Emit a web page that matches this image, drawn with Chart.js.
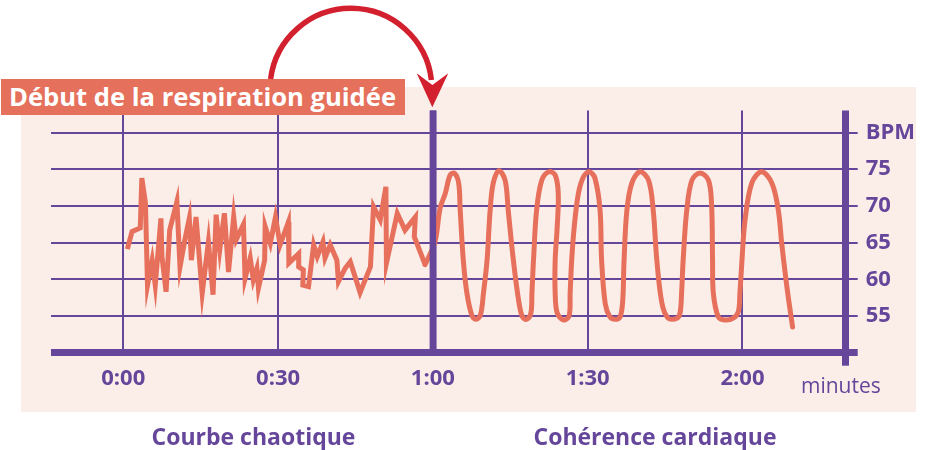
<!DOCTYPE html>
<html><head><meta charset="utf-8">
<script src="https://cdn.jsdelivr.net/npm/chart.js@4"></script>
<style>
html,body{margin:0;padding:0;background:#fff;width:932px;height:450px;overflow:hidden}
#panel{position:absolute;left:21px;top:87px;width:895px;height:325px;background:#fbede8}
#c{position:absolute;left:0;top:0}
#titlebox{position:absolute;left:1px;top:79px;width:404px;height:36px;background:#e5705b;color:#fff;font-family:'Open Sans';font-weight:700;font-size:25.6px;line-height:36px;padding-left:8px;box-sizing:border-box;white-space:nowrap;z-index:3}
.lbl{position:absolute;font-family:'Open Sans';font-weight:700;color:#65469a;white-space:nowrap;transform:translate(-50%,-50%);font-size:23px;z-index:2}
#minutes{position:absolute;left:801px;top:385px;transform:translateY(-50%);font-family:'Open Sans';font-weight:400;font-size:21px;color:#65469a;z-index:2}
#arrow{position:absolute;left:0;top:0;z-index:4}
</style></head>
<body>
<div id="panel"></div>
<canvas id="c" width="932" height="450"></canvas>
<div id="titlebox">Début de la respiration guidée</div>
<div class="lbl" style="left:253.5px;top:436px">Courbe chaotique</div>
<div class="lbl" style="left:655px;top:436px">Cohérence cardiaque</div>
<div id="minutes">minutes</div>
<svg id="arrow" width="932" height="450">
<path d="M 270.6 79 A 81 81 0 0 1 431.4 80" fill="none" stroke="#d3202e" stroke-width="5.5"/>
<polygon points="416.7,73.3 432.3,107.3 448.3,73.3 432.4,85" fill="#d3202e"/>
</svg>
<script>
// tick values and labels
const timeTicks = [0, 30, 60, 90, 120];
const timeLabels = ['0:00', '0:30', '1:00', '1:30', '2:00'];
const bpmTicks = [50, 55, 60, 65, 70, 75, 80];
const bpmLabels = ['', '55', '60', '65', '70', '75', 'BPM'];

// chaotic heart rate (seconds, BPM)
const chaoticX = [0.8,1.7,3.3,3.6,4.3,4.7,5.6,6.2,7.3,7.5,8.3,9.0,10.4,11.0,12.0,12.8,13.2,14.1,15.3,16.5,17.4,18.0,18.7,19.6,20.4,21.4,21.9,23.3,23.6,24.6,25.2,25.9,26.2,27.4,27.5,28.5,29.5,30.4,32.0,32.1,34.0,34.0,34.9,34.8,35.9,36.9,37.6,38.7,39.1,40.1,41.4,41.7,43.0,44.0,45.9,47.9,48.5,49.8,50.9,51.0,53.1,54.6,56.6,56.4,58.5];
const chaoticY = [64.1,66.5,67.0,73.8,70.4,59.2,62.6,59.2,68.3,63.1,58.3,66.7,70.6,61.7,65.6,68.3,62.6,68.5,58.1,65.1,57.9,68.8,64.0,69.0,61.0,68.5,65.4,67.5,60.1,62.9,59.9,61.5,58.8,62.6,67.2,64.9,68.5,64.7,67.8,62.2,63.5,61.7,61.3,59.2,59.0,64.7,63.1,65.1,62.9,64.7,62.6,59.7,61.5,62.4,58.2,61.7,69.9,68.1,72.6,62.2,69.0,66.7,68.5,65.8,62.0];

// cardiac coherence (seconds, BPM)
const cohX = [58.5,60.4,61.4,62.4,63.35,64.2,65.0,65.3,65.9,66.6,67.55,68.3,69.2,69.8,70.5,71.1,71.7,72.8,74.0,74.6,75.6,76.6,77.35,78.2,79.0,79.2,79.5,80.1,81.1,82.5,83.7,84.3,84.1,83.7,83.7,84.1,85.3,86.4,86.6,86.9,87.4,88.2,89.2,90.3,91.4,92.4,92.7,93.4,94.3,95.3,96.3,96.8,97.05,97.6,98.55,100.15,101.8,102.7,103.4,104.4,105.6,107.3,107.9,108.2,108.5,109.2,110.2,111.8,113.4,114.0,114.2,114.35,115.3,116.6,118.2,119.2,119.5,119.9,120.5,121.8,123.7,125.7,126.95,127.6,128.6,129.7];
const cohY = [62.0,65.1,69.7,71.7,74.2,74.45,73.1,69.4,62.6,58.1,55.1,54.55,55.1,58.1,62.6,69.4,73.1,74.8,73.5,69.4,62.6,57.2,54.9,54.55,55.4,58.1,62.6,69.4,73.5,74.65,74.2,71.7,67.2,62.6,58.1,55.4,54.45,55.0,58.1,62.6,67.2,71.7,74.0,74.65,73.8,69.4,62.6,56.7,54.9,54.55,54.9,57.2,62.6,69.4,73.1,74.65,73.5,69.4,62.6,56.7,54.7,54.7,55.4,58.1,62.6,69.4,73.5,74.5,73.5,70.35,62.6,58.1,54.9,54.45,54.7,55.6,58.1,62.6,68.1,73.1,74.65,73.1,69.4,64.9,59.0,53.5];

const X_MIN = -14, X_MAX = 140, Y_MIN = 50, Y_MAX = 83;
const guideStart = 60;

const PURPLE = '#65469a';
const SALMON = '#e6705b';

const toPts = (xs, ys) => xs.map((x, i) => ({x, y: ys[i]}));

const guidePlugin = {
  id: 'guide',
  afterDatasetsDraw(chart) {
    const {ctx, chartArea, scales} = chart;
    const px = scales.x.getPixelForValue(guideStart);
    ctx.save();
    ctx.strokeStyle = PURPLE;
    ctx.lineWidth = 6.5;
    ctx.beginPath();
    ctx.moveTo(px, chartArea.top);
    ctx.lineTo(px, chartArea.bottom);
    ctx.stroke();
    ctx.restore();
  }
};

new Chart(document.getElementById('c'), {
  type: 'line',
  data: {
    datasets: [
      {data: toPts(chaoticX, chaoticY), borderColor: SALMON, borderWidth: 5, tension: 0, pointRadius: 0, borderJoinStyle: 'miter', fill: false},
      {data: toPts(cohX, cohY), borderColor: SALMON, borderWidth: 5, tension: 0.35, pointRadius: 0, borderJoinStyle: 'round', borderCapStyle: 'round', fill: false}
    ]
  },
  options: {
    responsive: false,
    animation: false,
    devicePixelRatio: 1,
    layout: {padding: {left: 51, top: 110.5, right: 0, bottom: 0}},
    plugins: {legend: {display: false}, tooltip: {enabled: false}},
    scales: {
      x: {
        type: 'linear', position: 'bottom', min: X_MIN, max: X_MAX,
        afterBuildTicks: s => { s.ticks = timeTicks.concat([X_MAX]).map(v => ({value: v})); },
        afterFit: s => { s.height = 450 - 352.7; },
        border: {display: false},
        grid: {
          color: PURPLE,
          lineWidth: c => c.tick && c.tick.value === X_MAX ? 7 : (c.tick && c.tick.value === guideStart ? 6.5 : 2),
          tickColor: c => c.tick && c.tick.value === X_MAX ? PURPLE : 'rgba(0,0,0,0)',
          tickLength: 13
        },
        ticks: {
          autoSkip: false, maxRotation: 0, padding: 0,
          color: PURPLE, font: {family: 'Open Sans', weight: 'bold', size: 22},
          callback: v => { const i = timeTicks.indexOf(v); return i >= 0 ? timeLabels[i] : ''; }
        }
      },
      y: {
        type: 'linear', position: 'right', min: Y_MIN, max: Y_MAX,
        afterBuildTicks: s => { s.ticks = bpmTicks.map(v => ({value: v})); },
        afterFit: s => { s.width = 932 - 845.7; },
        border: {display: false},
        grid: {
          color: PURPLE,
          lineWidth: c => c.tick && c.tick.value === Y_MIN ? 7 : 2,
          tickLength: 12
        },
        ticks: {
          padding: 8, color: PURPLE, font: {family: 'Open Sans', weight: 'bold', size: 22},
          callback: v => { const i = bpmTicks.indexOf(v); return i >= 0 ? bpmLabels[i] : ''; }
        }
      }
    }
  },
  plugins: [guidePlugin]
});
</script>
</body></html>
